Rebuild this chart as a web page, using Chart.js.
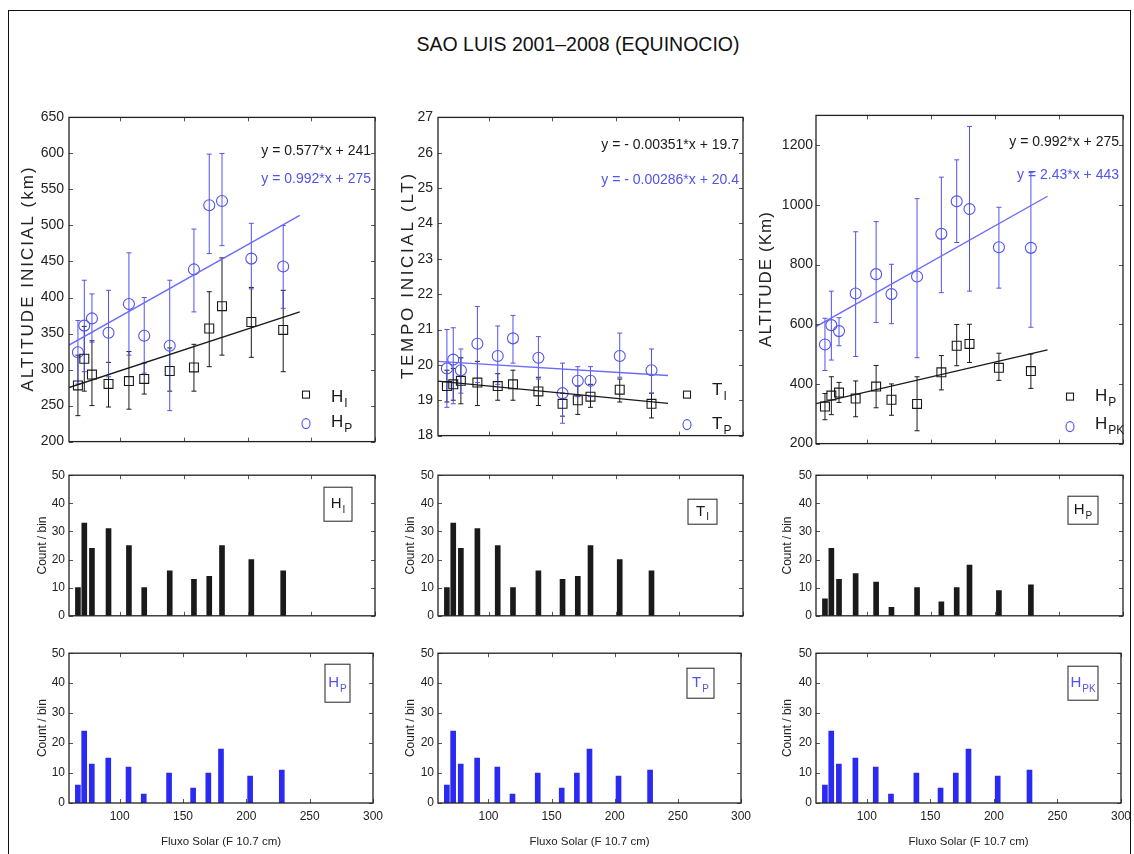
<!DOCTYPE html>
<html lang="pt">
<head>
<meta charset="UTF-8">
<title>Sao Luis 2001-2008 (Equinocio)</title>
<script src="https://cdn.jsdelivr.net/npm/chart.js"></script>
<style>
  body { margin: 0; background: #fff; font-family: "Liberation Sans", Arial, sans-serif; }
  #page { position: relative; width: 1134px; height: 854px; overflow: hidden; background: #fff; }
  #frame { position: absolute; left: 8px; top: 10px; width: 1121px; height: 860px; border: 1px solid #111; }
  #title { position: absolute; left: 0; width: 1156px; top: 33px; text-align: center; font-size: 19.5px; color: #111; }
  canvas { position: absolute; }
</style>
</head>
<body>
<div id="page">
  <div id="frame"></div>
  <div id="title">SAO LUIS 2001–2008 (EQUINOCIO)</div>
</div>
<script>
// solar flux bin centres (F10.7)
const flux = [67, 72, 78, 91, 107, 119, 139, 158, 170, 180, 203, 228];

// initial altitude H_I and peak altitude H_P (km)
const hI     = [278, 315, 293, 280, 284, 287, 298, 303, 357, 388, 366, 355];
const hILow  = [236, 270, 250, 248, 245, 266, 270, 270, 304, 320, 317, 297];
const hIHigh = [320, 360, 340, 310, 325, 309, 330, 335, 408, 455, 414, 410];

const hP     = [324, 361, 371, 351, 391, 347, 333, 439, 528, 534, 454, 443];
const hPLow  = [280, 297, 338, 290, 320, 295, 243, 380, 461, 472, 412, 385];
const hPHigh = [368, 424, 405, 410, 462, 400, 424, 495, 599, 600, 503, 500];

// initial time T_I and T_P (LT)
const tI     = [19.4, 19.45, 19.55, 19.5, 19.4, 19.45, 19.25, 18.9, 19.0, 19.1, 19.3, 18.9];
const tILow  = [18.95, 19.0, 18.9, 18.85, 19.0, 19.0, 18.85, 18.55, 18.6, 18.8, 18.95, 18.5];
const tIHigh = [19.85, 19.9, 20.2, 20.1, 19.75, 19.85, 19.65, 19.2, 19.4, 19.45, 19.6, 19.2];

const tP     = [19.9, 20.15, 19.85, 20.6, 20.25, 20.75, 20.2, 19.2, 19.55, 19.55, 20.25, 19.85];
const tPLow  = [18.8, 18.9, 19.2, 19.5, 19.45, 20.05, 19.6, 18.35, 19.1, 19.1, 19.65, 19.2];
const tPHigh = [21.0, 21.05, 20.45, 21.65, 21.1, 21.4, 20.8, 20.05, 19.95, 19.95, 20.9, 20.45];

// H_PK (km)
const hPK     = [532, 597, 577, 703, 768, 701, 760, 903, 1012, 986, 858, 856];
const hPKLow  = [445, 480, 528, 492, 606, 602, 488, 706, 874, 711, 721, 590];
const hPKHigh = [620, 711, 622, 910, 944, 801, 1021, 1093, 1151, 1263, 992, 1108];

// counts per bin
const countI = [10, 33, 24, 31, 25, 10, 16, 13, 14, 25, 20, 16];
const countP = [6, 24, 13, 15, 12, 3, 10, 5, 10, 18, 9, 11];

// fitted lines (end points)
const fitX   = [60, 241];
const fitHI  = [275, 380];
const fitHP  = [334, 514];
const fitTI  = [19.54, 18.91];
const fitTP  = [20.1, 19.7];
const fitHPK = [592, 1029];

// tick labels
const ticksFlux  = [100, 150, 200, 250, 300];
const ticksH     = [200, 250, 300, 350, 400, 450, 500, 550, 600, 650];
const ticksT     = [18, 19, 20, 21, 22, 23, 24, 25, 26, 27];
const ticksAlt   = [200, 400, 600, 800, 1000, 1200];
const ticksCount = [0, 10, 20, 30, 40, 50];

const BLACK = '#1a1a1a';
const BLUE = '#5252ee';
const BARBLUE = '#2a2af2';
const FONT = '"Liberation Sans", Arial, sans-serif';

const pts = (ys) => flux.map((x, i) => ({x: x, y: ys[i]}));
const line = (ys) => fitX.map((x, i) => ({x: x, y: ys[i]}));

function subText(ctx, x, y, main, sub, size, color) {
  ctx.fillStyle = color;
  ctx.textAlign = 'left';
  ctx.textBaseline = 'alphabetic';
  ctx.font = size + 'px ' + FONT;
  ctx.fillText(main, x, y);
  const w = ctx.measureText(main).width;
  ctx.font = Math.round(size * 0.68) + 'px ' + FONT;
  ctx.fillText(sub, x + w + 1, y + size * 0.3);
}
function subWidth(ctx, main, sub, size) {
  ctx.font = size + 'px ' + FONT;
  const w = ctx.measureText(main).width;
  ctx.font = Math.round(size * 0.68) + 'px ' + FONT;
  return w + 1 + ctx.measureText(sub).width;
}

const decor = {
  id: 'decor',
  beforeDatasetsDraw(chart) {
    const ctx = chart.ctx, xs = chart.scales.x, ys = chart.scales.y;
    ctx.save();
    chart.data.datasets.forEach(ds => {
      if (!ds.errLow) return;
      ctx.strokeStyle = ds.borderColor;
      ctx.lineWidth = 1;
      ds.data.forEach((p, i) => {
        const px = xs.getPixelForValue(p.x);
        const y1 = ys.getPixelForValue(ds.errLow[i]);
        const y2 = ys.getPixelForValue(ds.errHigh[i]);
        ctx.beginPath();
        ctx.moveTo(px, y1); ctx.lineTo(px, y2);
        ctx.moveTo(px - 2.5, y1); ctx.lineTo(px + 2.5, y1);
        ctx.moveTo(px - 2.5, y2); ctx.lineTo(px + 2.5, y2);
        ctx.stroke();
      });
    });
    ctx.restore();
  },
  afterDatasetsDraw(chart) {
    const ctx = chart.ctx, a = chart.chartArea, d = chart.canvas.decor;
    const xs = chart.scales.x, ys = chart.scales.y;
    ctx.save();
    // inward ticks
    ctx.strokeStyle = '#555';
    ctx.lineWidth = 1;
    ctx.beginPath();
    ys.ticks.forEach(t => {
      const py = Math.round(ys.getPixelForValue(t.value)) + 0.5;
      ctx.moveTo(a.left, py); ctx.lineTo(a.left + 4, py);
      ctx.moveTo(a.right, py); ctx.lineTo(a.right - 4, py);
    });
    ticksFlux.forEach(v => {
      const px = Math.round(xs.getPixelForValue(v)) + 0.5;
      ctx.moveTo(px, a.bottom); ctx.lineTo(px, a.bottom - 4);
      ctx.moveTo(px, a.top); ctx.lineTo(px, a.top + 4);
    });
    ctx.stroke();
    // frame
    ctx.strokeStyle = '#222';
    ctx.lineWidth = 1.3;
    ctx.strokeRect(a.left, a.top, a.right - a.left, a.bottom - a.top);
    // rotated y title, spread to the length seen in the figure
    if (d.ytitle) {
      const t = d.ytitle;
      ctx.save();
      ctx.font = '17px ' + FONT;
      ctx.fillStyle = '#222';
      const w0 = ctx.measureText(t.text).width;
      const ls = (t.len - w0) / (t.text.length - 1);
      ctx.translate(a.left + t.dx, (a.top + a.bottom) / 2);
      ctx.rotate(-Math.PI / 2);
      ctx.letterSpacing = ls.toFixed(2) + 'px';
      ctx.textAlign = 'left';
      ctx.textBaseline = 'middle';
      ctx.fillText(t.text, -t.len / 2, 0);
      ctx.restore();
    }
    // equations
    (d.eq || []).forEach(e => {
      ctx.fillStyle = e.color;
      ctx.font = '14px ' + FONT;
      ctx.textAlign = 'right';
      ctx.textBaseline = 'alphabetic';
      ctx.fillText(e.text, a.right - 4, a.top + e.dy);
    });
    // legend
    (d.legend || []).forEach(l => {
      const mx = a.right + l.mx, my = a.bottom + l.my;
      ctx.strokeStyle = l.color;
      ctx.lineWidth = 1.1;
      if (l.shape === 'rect') ctx.strokeRect(mx - 3.5, my - 3.5, 7, 7);
      else { ctx.beginPath(); ctx.ellipse(mx, my, 4, 5, 0, 0, Math.PI * 2); ctx.stroke(); }
      subText(ctx, a.right + l.tx, a.bottom + l.ty, l.main, l.sub, 17, BLACK);
    });
    // label box in histograms
    if (d.box) {
      const b = d.box;
      ctx.strokeStyle = '#222';
      ctx.lineWidth = 1;
      ctx.strokeRect(a.right + b.x1, a.top + b.y1, b.x2 - b.x1, b.y2 - b.y1);
      const tw = subWidth(ctx, b.main, b.sub, 15);
      const cx = a.right + (b.x1 + b.x2) / 2;
      const cy = a.top + (b.y1 + b.y2) / 2;
      subText(ctx, cx - tw / 2, cy + 4, b.main, b.sub, 15, b.color);
    }
    ctx.restore();
  }
};

const page = document.getElementById('page');

function makePanel(p) {
  const padTop = 10, padRight = 14;
  const cv = document.createElement('canvas');
  cv.width = p.yw + p.w + padRight;
  cv.height = padTop + p.h + p.xh;
  cv.style.left = (p.left - p.yw) + 'px';
  cv.style.top = (p.top - padTop) + 'px';
  cv.decor = p.decor;
  page.appendChild(cv);

  new Chart(cv, {
    type: p.type,
    data: {datasets: p.datasets},
    options: {
      responsive: false,
      animation: false,
      layout: {padding: {top: padTop, right: padRight, left: 0, bottom: 0}},
      plugins: {legend: {display: false}, tooltip: {enabled: false}},
      scales: {
        x: {
          type: 'linear', min: 60, max: 300, offset: false,
          display: p.xh > 0,
          grid: {display: false, drawTicks: false},
          border: {display: false},
          afterBuildTicks: s => { s.ticks = ticksFlux.map(v => ({value: v})); },
          afterFit: s => { s.height = p.xh; },
          ticks: {color: '#222', font: {size: 12, family: FONT}, padding: 6, maxRotation: 0},
          title: {display: true, text: 'Fluxo Solar (F 10.7 cm)', color: '#222',
                  font: {size: 11.5, family: FONT}, padding: {top: 0, bottom: 4}}
        },
        y: {
          min: p.ymin, max: p.ymax,
          grid: {display: false, drawTicks: false},
          border: {display: false},
          afterBuildTicks: s => { s.ticks = p.yticks.map(v => ({value: v})); },
          afterFit: s => { s.width = p.yw; },
          ticks: {color: '#222', font: {size: p.tickSize, family: FONT}, padding: p.tickPad,
                  callback: v => String(v)},
          title: {display: !!p.ytitle, text: p.ytitle || '', color: '#222',
                  font: {size: 12, family: FONT}, padding: {top: 0, bottom: 0}}
        }
      }
    },
    plugins: [decor]
  });
}

function scatterSet(ys, lo, hi, color, shape) {
  return {
    data: pts(ys), errLow: lo, errHigh: hi,
    borderColor: color, backgroundColor: 'rgba(0,0,0,0)',
    pointStyle: shape, pointRadius: shape === 'rect' ? 6.3 : 5.5,
    pointBorderWidth: 1.1, showLine: false
  };
}
function fitSet(ys, color) {
  return {data: line(ys), borderColor: color, borderWidth: 1.4, pointRadius: 0, showLine: true};
}
function barSet(ys, color) {
  return {data: pts(ys), backgroundColor: color, borderWidth: 0, barThickness: 5, grouped: false};
}

const cols = [{left: 69, w: 306}, {left: 438, w: 305}, {left: 816, w: 307}];

// row 1
makePanel({
  type: 'scatter', left: cols[0].left, w: cols[0].w, top: 114, h: 341, yw: 51, xh: 0,
  ymin: 200, ymax: 650, yticks: ticksH, tickSize: 14, tickPad: 5,
  datasets: [fitSet(fitHI, BLACK), fitSet(fitHP, '#6a6aff'),
             scatterSet(hI, hILow, hIHigh, BLACK, 'rect'), scatterSet(hP, hPLow, hPHigh, BLUE, 'circle')],
  decor: {
    ytitle: {text: 'ALTITUDE INICIAL (km)', dx: -41, len: 224},
    eq: [{text: 'y = 0.577*x + 241', color: BLACK, dy: 38}, {text: 'y = 0.992*x + 275', color: BLUE, dy: 66}],
    legend: [{shape: 'rect', color: BLACK, mx: -69, my: -47, tx: -44, ty: -40, main: 'H', sub: 'I'},
             {shape: 'circle', color: BLUE, mx: -69, my: -18, tx: -44, ty: -15, main: 'H', sub: 'P'}]
  }
});
makePanel({
  type: 'scatter', left: cols[1].left, w: cols[1].w, top: 114, h: 335, yw: 40, xh: 0,
  ymin: 18, ymax: 27, yticks: ticksT, tickSize: 14, tickPad: 5,
  datasets: [fitSet(fitTI, BLACK), fitSet(fitTP, '#6a6aff'),
             scatterSet(tI, tILow, tIHigh, BLACK, 'rect'), scatterSet(tP, tPLow, tPHigh, BLUE, 'circle')],
  decor: {
    ytitle: {text: 'TEMPO INICIAL (LT)', dx: -30, len: 205},
    eq: [{text: 'y = - 0.00351*x + 19.7', color: BLACK, dy: 32}, {text: 'y = - 0.00286*x + 20.4', color: BLUE, dy: 67}],
    legend: [{shape: 'rect', color: BLACK, mx: -56, my: -41, tx: -31, ty: -41, main: 'T', sub: 'I'},
             {shape: 'circle', color: BLUE, mx: -56, my: -11, tx: -31, ty: -7, main: 'T', sub: 'P'}]
  }
});
makePanel({
  type: 'scatter', left: cols[2].left, w: cols[2].w, top: 114, h: 341, yw: 60, xh: 0,
  ymin: 200, ymax: 1300, yticks: ticksAlt, tickSize: 14, tickPad: 3,
  datasets: [fitSet(fitHP, BLACK), fitSet(fitHPK, '#6a6aff'),
             scatterSet(hP, hPLow, hPHigh, BLACK, 'rect'), scatterSet(hPK, hPKLow, hPKHigh, BLUE, 'circle')],
  decor: {
    ytitle: {text: 'ALTITUDE (Km)', dx: -50, len: 135},
    eq: [{text: 'y = 0.992*x + 275', color: BLACK, dy: 31}, {text: 'y = 2.43*x + 443', color: BLUE, dy: 64}],
    legend: [{shape: 'rect', color: BLACK, mx: -53, my: -47, tx: -28, ty: -43, main: 'H', sub: 'P'},
             {shape: 'circle', color: BLUE, mx: -53, my: -17, tx: -28, ty: -15, main: 'H', sub: 'PK'}]
  }
});

// rows 2 and 3: histograms
const hist = [
  {col: 0, top: 474, h: 153, xh: 0, yw: 34, counts: countI, color: BLACK, main: 'H', sub: 'I', box: [-51, 12, -23, 46]},
  {col: 1, top: 474, h: 153, xh: 0, yw: 35, counts: countI, color: BLACK, main: 'T', sub: 'I', box: [-55, 24, -26, 49]},
  {col: 2, top: 474, h: 153, xh: 0, yw: 36, counts: countP, color: BLACK, main: 'H', sub: 'P', box: [-55, 21, -25, 49]},
  {col: 0, top: 652, h: 151, xh: 50, yw: 34, counts: countP, color: BARBLUE, main: 'H', sub: 'P', box: [-48, 11, -23, 49]},
  {col: 1, top: 652, h: 151, xh: 50, yw: 35, counts: countP, color: BARBLUE, main: 'T', sub: 'P', box: [-54, 15, -27, 45]},
  {col: 2, top: 652, h: 151, xh: 50, yw: 36, counts: countP, color: BARBLUE, main: 'H', sub: 'PK', box: [-53, 13, -23, 47]}
];
hist.forEach(hh => {
  makePanel({
    type: 'bar', left: cols[hh.col].left, w: cols[hh.col].w, top: hh.top, h: hh.h, yw: hh.yw, xh: hh.xh,
    ymin: 0, ymax: 50, yticks: ticksCount, tickSize: 12, tickPad: 4,
    ytitle: 'Count / bin',
    datasets: [barSet(hh.counts, hh.color)],
    decor: {box: {x1: hh.box[0], y1: hh.box[1], x2: hh.box[2], y2: hh.box[3],
                  main: hh.main, sub: hh.sub, color: hh.color === BLACK ? BLACK : BLUE}}
  });
});
</script>
</body>
</html>
